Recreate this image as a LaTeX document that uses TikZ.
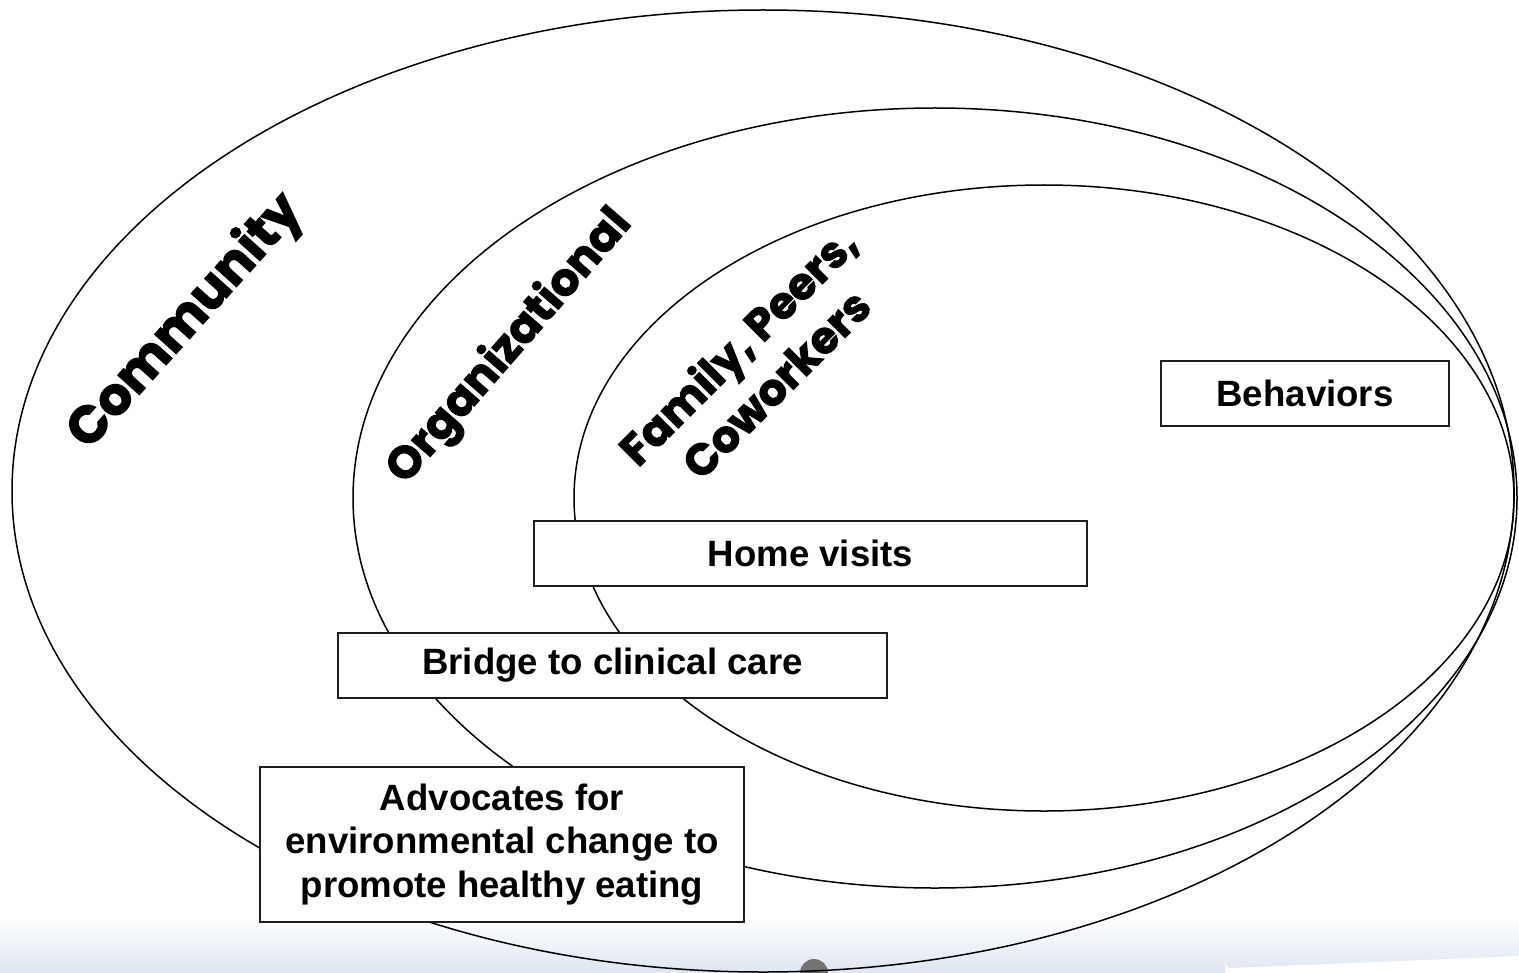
\documentclass[tikz,border=0pt]{standalone}
\usepackage{fontspec}
\setmainfont{Liberation Sans}
\newfontfamily\heavyfont{Poppins}[BoldFeatures={FakeBold=2.2}]
\usetikzlibrary{shadings}

\definecolor{bandblue}{RGB}{222,230,240}
\definecolor{boxline}{RGB}{30,30,30}

\begin{document}
\begin{tikzpicture}[x=0.5pt,y=-0.5pt,
  ring/.style={line width=0.75pt},
  lvl/.style={font=\heavyfont\bfseries, inner sep=0pt, align=center},
  actbox/.style={draw=boxline, fill=white, line width=1pt, inner sep=0pt,
    align=center, font=\bfseries\fontsize{18.3}{21.7}\selectfont}]
 \useasboundingbox (0,0) rectangle (1519,973);
 % faint band along the bottom
 \shade[top color=white, bottom color=bandblue] (0,915) rectangle (1519,973);
 \fill[white] (1225,973) -- (1225,962) arc[start angle=180, end angle=90, radius=6] -- (1519,956) -- (1519,973) -- cycle;
 \fill[black!55] (800,973) arc[start angle=180, end angle=360, radius=14];
 % the three levels
 \draw[ring] (763,491) ellipse [x radius=751, y radius=481];
 \draw[ring] (935,498) ellipse [x radius=582, y radius=390];
 \draw[ring] (1044,498) ellipse [x radius=470, y radius=313];
 \node[lvl, rotate=48, font=\heavyfont\bfseries\fontsize{26}{30}\selectfont] (community) at (186,322) {Community};
 \node[lvl, rotate=49, font=\heavyfont\bfseries\fontsize{22.5}{26}\selectfont] (organizational) at (510,347) {Organizational};
 \node[lvl, rotate=45, font=\heavyfont\bfseries\fontsize{22}{27}\selectfont] (family) at (756,364) {Family, Peers,\\Coworkers};
 % actions at each level
 \node[actbox, minimum width=144pt, minimum height=32.5pt] (behaviors) at (1305,393.5) {Behaviors};
 \node[actbox, minimum width=276.5pt, minimum height=32.5pt] (home) at (810.5,553.5) {Home visits};
 \node[actbox, minimum width=274.5pt, minimum height=32.5pt] (bridge) at (612.5,665.5) {Bridge to clinical care};
 \node[actbox, minimum width=242pt, minimum height=77.5pt] (advocates) at (502,844.5) {Advocates for\\environmental change to\\promote healthy eating};
\end{tikzpicture}
\end{document}
